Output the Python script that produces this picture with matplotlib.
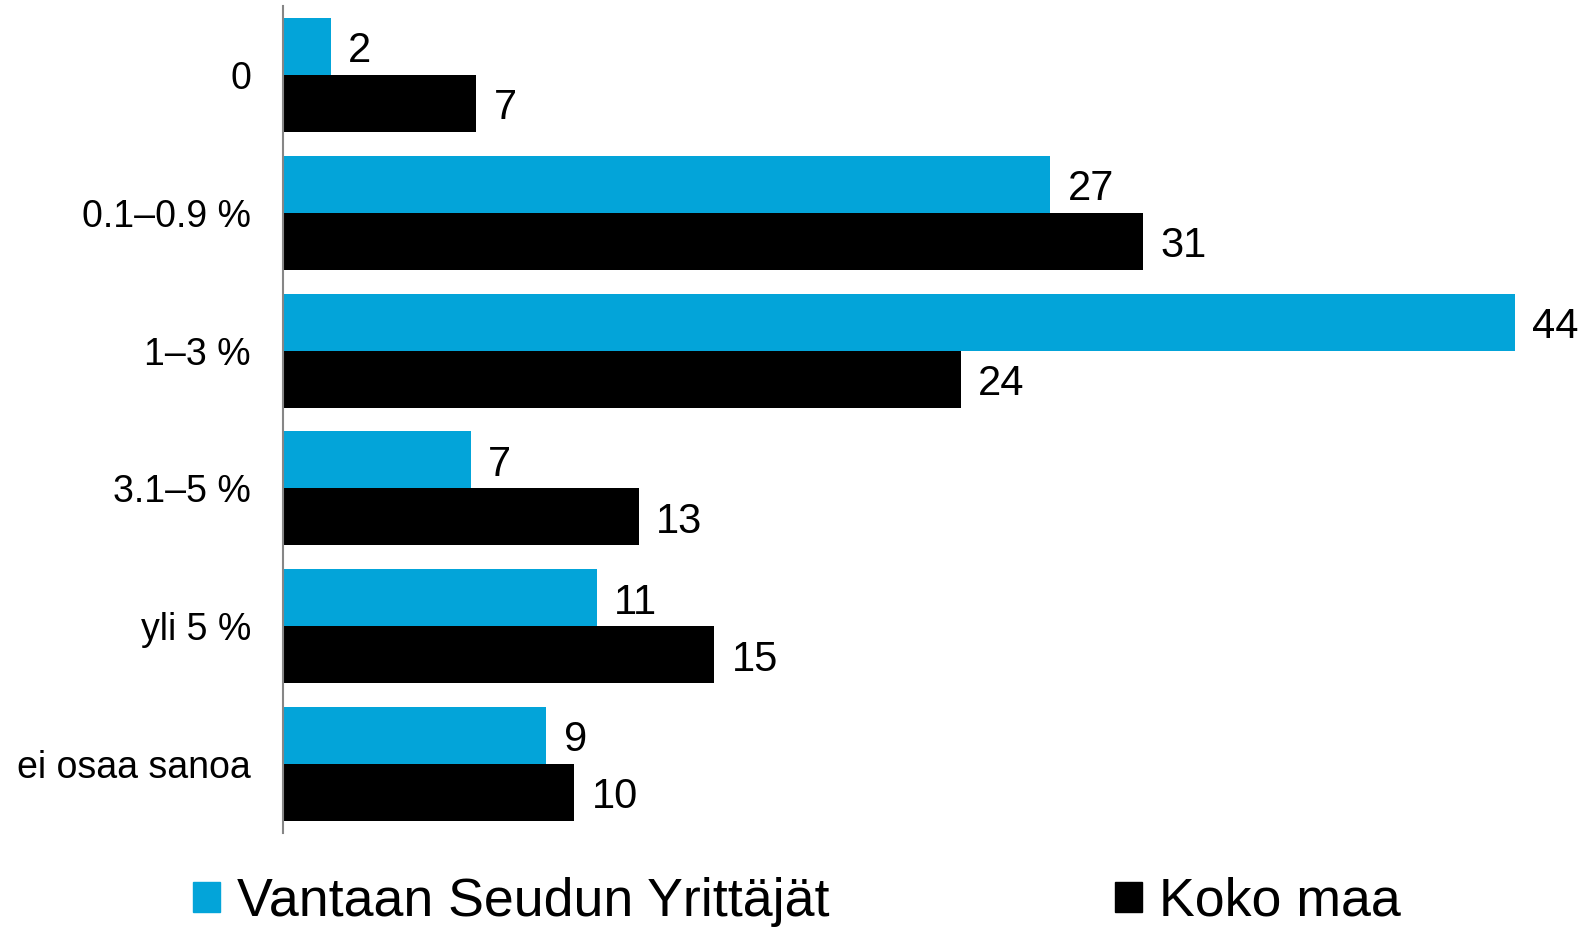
import numpy as np
import matplotlib.pyplot as plt
from matplotlib.patches import Patch

plt.rcParams['font.family'] = ['Liberation Sans', 'DejaVu Sans']

categories = ['0', '0.1–0.9 %', '1–3 %', '3.1–5 %', 'yli 5 %', 'ei osaa sanoa']
vantaa = [1.7, 27.4, 44.0, 6.7, 11.2, 9.4]
koko_maa = [6.9, 30.7, 24.2, 12.7, 15.4, 10.4]
series_names = ['Vantaan Seudun Yrittäjät', 'Koko maa']

c_blue = '#03A4D9'
c_black = '#000000'

fig = plt.figure(figsize=(15.96, 9.27), dpi=100)
ax = fig.add_axes([283 / 1596, 94 / 927, 1288 / 1596, 827 / 927])

y = np.arange(len(categories))
h = 0.413
ax.barh(y - h / 2, vantaa, height=h, color=c_blue)
ax.barh(y + h / 2, koko_maa, height=h, color=c_black)

# arvot palkkien perään
for yi, v in zip(y, vantaa):
    ax.annotate(f'{v:.0f}', (v, yi - h / 2), xytext=(12.5, -3.5), textcoords='offset points',
                va='center', ha='left', fontsize=30)
for yi, v in zip(y, koko_maa):
    ax.annotate(f'{v:.0f}', (v, yi + h / 2), xytext=(12.5, -3.5), textcoords='offset points',
                va='center', ha='left', fontsize=30)

ax.set_xlim(0, 46)
ax.set_ylim(5.5, -0.5)
ax.set_yticks(y)
ax.set_yticklabels(categories, fontsize=27)
ax.tick_params(axis='y', length=0, pad=23)
ax.set_xticks([])
for s in ['top', 'right', 'bottom']:
    ax.spines[s].set_visible(False)
ax.spines['left'].set_color('#868686')
ax.spines['left'].set_linewidth(1.5)

handles = [Patch(color=c_blue), Patch(color=c_black)]
fig.legend(handles, series_names, loc='center left', bbox_to_anchor=(193 / 1596, 0.027),
           ncol=2, frameon=False, fontsize=38.7, handlelength=0.5, handleheight=0.5,
           handletextpad=0.32, columnspacing=5.31, borderpad=0, borderaxespad=0)

fig.savefig('out.png', dpi=100)
plt.close(fig)
